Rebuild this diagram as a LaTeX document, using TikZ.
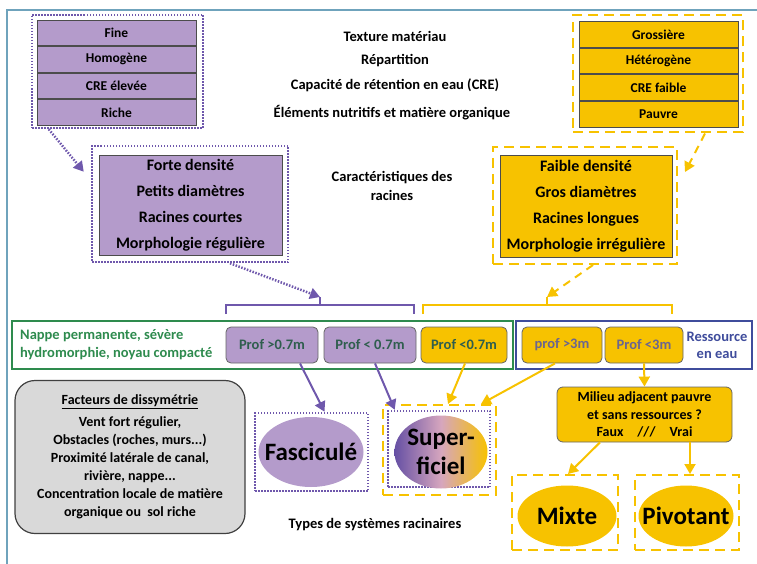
\documentclass[tikz,border=0pt]{standalone}
\usepackage{fontspec}
\setmainfont{Carlito}
\usetikzlibrary{arrows.meta,shapes.geometric,positioning}
\definecolor{purp}{HTML}{B49BCB}
\definecolor{purpline}{HTML}{6F58AC}
\definecolor{purpdark}{HTML}{6650A4}
\definecolor{gold}{HTML}{F7C200}
\definecolor{nappe}{HTML}{2E8B4E}
\definecolor{eau}{HTML}{3F4C9C}
\definecolor{cadre}{HTML}{6FA3BC}
\definecolor{grisbox}{HTML}{D9D9D9}
\definecolor{proftxt}{HTML}{2F5E4E}
\definecolor{proftxtb}{HTML}{6A6590}
\tikzset{
  row/.style={draw=black!70, line width=0.8pt, minimum width=159pt, minimum height=25.75pt,
    inner sep=0pt, font=\fontsize{13.5}{15}\selectfont\bfseries},
  purprow/.style={row, fill=purp},
  goldrow/.style={row, fill=gold},
  dotframe/.style={draw=purpline, line width=2.5pt, dash pattern=on 1.5pt off 1.5pt, inner sep=0pt},
  dashframe/.style={draw=gold, line width=2pt, dash pattern=on 10pt off 6pt, inner sep=0pt},
  charbox/.style={draw=black!70, line width=0.8pt, inner sep=0pt, align=center,
    font=\fontsize{16}{26}\selectfont\bfseries},
  title/.style={font=\fontsize{14.5}{19}\selectfont\bfseries, align=center},
  prof/.style={draw=black!60, rounded corners=5pt, line width=0.8pt, minimum height=36pt,
    inner sep=0pt, font=\fontsize{14.5}{17}\selectfont\bfseries},
  rtype/.style={ellipse, inner sep=0pt},
  rtypetxt/.style={inner sep=0pt, align=center, font=\fontsize{25}{29}\selectfont\bfseries},
  arr/.style={-{Triangle[length=10pt,width=11pt]}, line width=2pt},
}
\begin{document}
\begin{tikzpicture}[x=1pt,y=-1pt]
\useasboundingbox (0,0) rectangle (757,564);
\draw[cadre, line width=1.5pt] (7,564) -- (7,10) -- (757,10);

\node[dotframe, minimum width=171pt, minimum height=113pt] (solfin) at (117.5,71.5) {};
\node[purprow] (fine) at (116.5,32.9) {Fine};
\node[purprow, below=0pt of fine] (homog) {Homogène};
\node[purprow, below=0pt of homog] (creel) {CRE élevée};
\node[purprow, below=0pt of creel] (riche) {Riche};

\node[dashframe, minimum width=170pt, minimum height=117pt] (solgros) at (658,74) {};
\node[goldrow] (gross) at (658.5,34.4) {Grossière};
\node[goldrow, below=0pt of gross] (hetero) {Hétérogène};
\node[goldrow, below=0pt of hetero] (crefa) {CRE faible};
\node[goldrow, below=0pt of crefa] (pauvre) {Pauvre};

\node[title] (texture) at (395,36) {Texture matériau};
\node[title] (repart) at (395,61) {Répartition};
\node[title] (cre) at (395,85) {Capacité de rétention en eau (CRE)};
\node[title] (elem) at (392,113) {Éléments nutritifs et matière organique};
\node[title] (carac) at (392,186) {Caractéristiques des\\racines};

\node[dotframe, minimum width=196pt, minimum height=116pt] (racfinfr) at (190,204) {};
\node[charbox, fill=purp, minimum width=183pt, minimum height=100pt] (racfin) at (190.5,205)
  {Forte densité\\Petits diamètres\\Racines courtes\\Morphologie régulière};
\node[dashframe, minimum width=184pt, minimum height=117pt] (racgrosfr) at (585,205.5) {};
\node[charbox, fill=gold, minimum width=172pt, minimum height=102pt] (racgros) at (586,206)
  {Faible densité\\Gros diamètres\\Racines longues\\Morphologie irrégulière};

\coordinate (brkP) at (320,297);
\coordinate (brkG) at (547,297);
\draw[purpline, line width=1.5pt] (226,314) -- (226,305) -- (414,305) -- (414,314);
\draw[purpline, line width=1.5pt] (320,305) -- (brkP);
\draw[gold, line width=1.5pt] (423,314) -- (423,305) -- (672,305) -- (672,314);
\draw[gold, line width=1.5pt] (547,305) -- (brkG);

\draw[purpline, arr, line width=2.5pt, dash pattern=on 1.5pt off 1.5pt] ([xshift=18pt]solfin.south west)
  -- ([yshift=-27pt,xshift=-7pt]racfinfr.north west);
\draw[purpline, arr, line width=2.5pt, dash pattern=on 1.5pt off 1.5pt] ([xshift=40pt]racfinfr.south) -- (brkP);
\draw[gold, arr, dash pattern=on 8pt off 6pt] ([xshift=47pt]solgros.south) -- ([yshift=-26pt,xshift=7pt]racgrosfr.north east);
\draw[gold, arr, dash pattern=on 8pt off 6pt] ([xshift=8pt]racgrosfr.south) -- (brkG);

\node[draw=nappe, line width=1.5pt, minimum width=501pt, minimum height=48pt, inner sep=0pt] (nappe) at (262.5,345) {};
\node[anchor=west, align=left, text=nappe, font=\fontsize{14.5}{18}\selectfont\bfseries, inner sep=0pt] (nappetxt) at (20,345)
  {Nappe permanente, sévère\\hydromorphie, noyau compacté};
\node[draw=eau, line width=1.5pt, minimum width=236pt, minimum height=48pt, inner sep=0pt] (ressource) at (634,345) {};
\node[align=center, text=eau, font=\fontsize{14.5}{17}\selectfont\bfseries, inner sep=0pt] (eautxt) at (717,345)
  {Ressource\\en eau};

\node[prof, fill=purp, text=proftxt, minimum width=92pt] (p1) at (272,345) {Prof >0.7m};
\node[prof, fill=purp, text=proftxt, minimum width=92pt] (p2) at (370,345) {Prof < 0.7m};
\node[prof, fill=gold, text=proftxt, minimum width=86pt] (p3) at (464,345) {Prof <0.7m};
\node[prof, fill=gold, text=proftxtb, minimum width=80pt] (p4) at (562,345) {prof >3m};
\node[prof, fill=gold, text=proftxtb, minimum width=78pt] (p5) at (644,345) {Prof <3m};

\node[draw=black!75, fill=grisbox, line width=1.2pt, rounded corners=20pt, minimum width=230pt, minimum height=153pt,
  align=center, font=\fontsize{14}{18}\selectfont\bfseries] (dissym) at (130,457)
  {\underline{Facteurs de dissymétrie}\\[4pt]Vent fort régulier,\\Obstacles (roches, murs...)\\Proximité latérale de canal,\\rivière, nappe...\\Concentration locale de matière\\organique ou~ sol riche};

\node[dotframe, minimum width=113pt, minimum height=78pt] (fascfr) at (311.5,452) {};
\node[rtype, fill=purp, minimum width=105pt, minimum height=70pt] (fasc) at (311,452) {};
\node[rtypetxt] (fasclbl) at (fasc) {Fasciculé};

\node[dashframe, minimum width=113pt, minimum height=90pt] (superfr) at (439.5,450) {};
\node[dotframe, minimum width=102pt, minimum height=76pt] (superin) at (439,449) {};
\node[rtype, left color=purpdark, right color=gold, middle color={rgb,255:red,214;green,166;blue,190},
  minimum width=93pt, minimum height=73pt] (super) at (441,452) {};
\node[rtypetxt] (superlbl) at (super) {Super-\\ficiel};

\node[prof, fill=gold, rounded corners=6pt, minimum width=175pt, minimum height=55pt, align=center,
  font=\fontsize{14}{17.5}\selectfont\bfseries] (milieu) at (644.5,414.5)
  {Milieu adjacent pauvre\\et sans ressources ?\\Faux\quad///\quad Vrai};

\node[dashframe, minimum width=106pt, minimum height=75pt] (mixtefr) at (565,512.5) {};
\node[rtype, fill=gold, minimum width=99pt, minimum height=61pt] (mixte) at (567,516) {};
\node[rtypetxt] (mixtelbl) at (mixte) {Mixte};
\node[dashframe, minimum width=104pt, minimum height=75pt] (pivotfr) at (687,512.5) {};
\node[rtype, fill=gold, minimum width=95pt, minimum height=61pt] (pivot) at (686,516) {};
\node[rtypetxt] (pivotlbl) at (pivot) {Pivotant};

\node[title] (types) at (375,525) {Types de systèmes racinaires};

\draw[purpline, arr] ([xshift=28pt]p1.south) -- ([xshift=13pt]fascfr.north);
\draw[purpline, arr] ([xshift=5pt]p2.south) -- ([xshift=8pt]superin.north west);
\draw[gold, arr] ([xshift=1pt]p3.south) -- ([xshift=8.5pt]superfr.north);
\draw[gold, arr] ([xshift=-7pt]p4.south) -- ([xshift=-16pt]superfr.north east);
\draw[gold, arr] (p5.south) -- (milieu.north);
\draw[gold, arr] ([xshift=-44.5pt]milieu.south) -- ([xshift=3pt]mixtefr.north);
\draw[gold, arr] ([xshift=45.5pt]milieu.south) -- ([xshift=3pt]pivotfr.north);
\end{tikzpicture}
\end{document}
